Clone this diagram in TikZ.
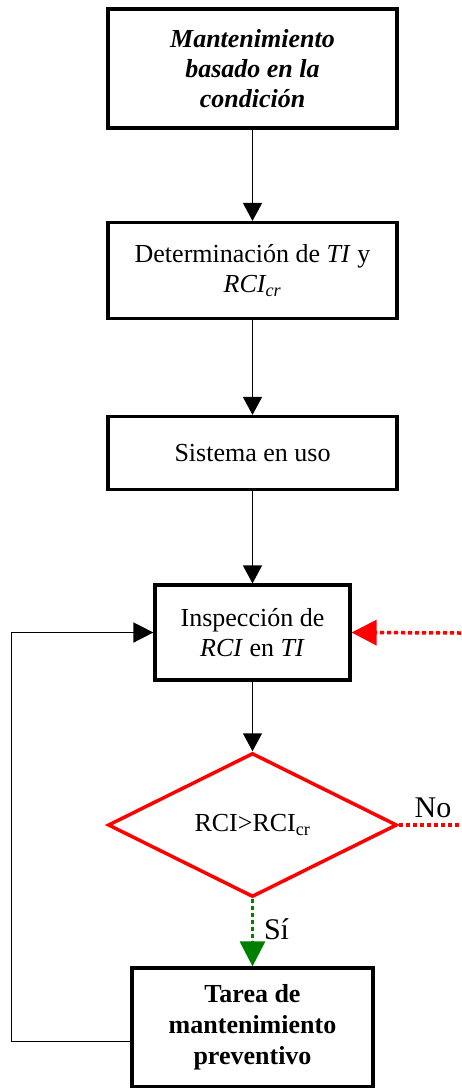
\documentclass[tikz,border=0pt]{standalone}
\usepackage{fontspec}
\setmainfont{Liberation Serif}
\usetikzlibrary{arrows.meta, shapes.geometric}

\begin{document}
\begin{tikzpicture}[x=1pt, y=-1pt,
  every node/.style={font=\fontsize{26}{30}\selectfont, inner sep=0pt, align=center},
  stepbox/.style={draw, line width=3.2pt},
  flow/.style={line width=1.5pt, -{Triangle[length=18pt, width=19pt]}},
  bigtip/.style={-{Triangle[length=25pt, width=25pt]}},
  dotline/.style={line width=3.5pt, dash pattern=on 4pt off 3pt}]
\useasboundingbox (0,0) rectangle (461,1088);
\node [stepbox, minimum width=289pt, minimum height=119pt, font=\fontsize{26}{30}\selectfont\bfseries\itshape]
  (cbm) at (252.5,68.5) {Mantenimiento\\basado en la\\condición};
\node [stepbox, minimum width=289pt, minimum height=96pt]
  (determ) at (252.5,270.5) {Determinación de \textit{TI} y\\\textit{RCI\textsubscript{cr}}};
\node [stepbox, minimum width=289pt, minimum height=73pt]
  (uso) at (252.5,453) {Sistema en uso};
\node [stepbox, minimum width=195pt, minimum height=95pt]
  (insp) at (252.5,632.5) {Inspección de\\\textit{RCI} en \textit{TI}};
\node [diamond, draw=red, line width=3.5pt, minimum width=289pt, minimum height=144pt]
  (rci) at (252.5,825) {RCI>RCI\textsubscript{cr}};
\node [stepbox, minimum width=241pt, minimum height=119pt, font=\fontsize{26}{31}\selectfont\bfseries]
  (tarea) at (252.5,1027.5) {Tarea de\\mantenimiento\\preventivo};
\coordinate (redin) at (461,633);
\coordinate (noout) at (461,825);
% main flow
\draw [flow] (cbm) -- (determ);
\draw [flow] (determ) -- (uso);
\draw [flow] (uso) -- (insp);
\draw [flow] (insp) -- (rci);
% decision branches
\draw [dotline, line width=3pt, draw=green!50!black, fill=green!50!black, bigtip] (rci.south) -- (tarea.north)
  node [pos=0.45, right=10pt, text=black, font=\fontsize{30}{30}\selectfont] (si) {Sí};
\draw [dotline, red] (rci.east) -- (noout)
  node [pos=0.55, above=5pt, text=black, font=\fontsize{30}{30}\selectfont] (no) {No};
\draw [dotline, red, fill=red, bigtip] (redin) -- (insp.east);
% feedback loop
\draw [flow, -{Triangle[length=20pt, width=20pt]}] ([yshift=-14pt]tarea.west) -- ++(-119,0) |- (insp.west);
\end{tikzpicture}
\end{document}
